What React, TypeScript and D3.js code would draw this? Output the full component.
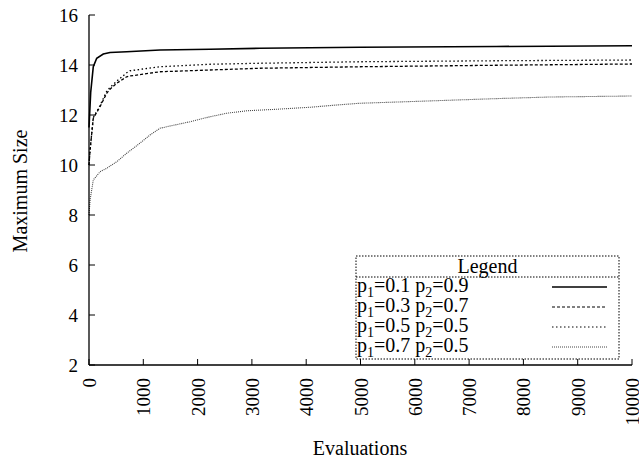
import React from "react";
import * as d3 from "d3";

// evaluations vs maximum size
const series1: [number, number][] = [
  [0, 11.5], [31, 12.9], [79, 13.93], [142, 14.27], [263, 14.44], [387, 14.5],
  [694, 14.53], [1308, 14.6], [2228, 14.63], [3149, 14.67], [4991, 14.71],
  [7500, 14.74], [10000, 14.77],
];
const series2: [number, number][] = [
  [0, 10.0], [20, 10.6], [79, 11.87], [203, 12.33], [326, 12.87], [387, 13.03],
  [510, 13.27], [694, 13.53], [755, 13.56], [1308, 13.73], [2228, 13.8],
  [3149, 13.87], [4991, 13.93], [7500, 13.99], [10000, 14.04],
];
const series3: [number, number][] = [
  [0, 10.0], [20, 10.6], [79, 11.9], [203, 12.38], [326, 12.95], [387, 13.1],
  [510, 13.35], [694, 13.69], [755, 13.77], [1308, 13.93], [2228, 14.03],
  [3149, 14.07], [4991, 14.13], [7500, 14.17], [10000, 14.2],
];
const series4: [number, number][] = [
  [0, 8.0], [20, 8.6], [79, 9.4], [203, 9.73], [326, 9.87], [510, 10.13],
  [694, 10.47], [937, 10.87], [1123, 11.2], [1308, 11.47], [1492, 11.56],
  [1860, 11.73], [2228, 11.93], [2536, 12.07], [2904, 12.17], [3457, 12.23],
  [4070, 12.31], [4562, 12.4], [4991, 12.47], [6096, 12.55], [7569, 12.66],
  [8490, 12.72], [10000, 12.76],
];

const legendP1 = ["0.1", "0.3", "0.5", "0.7"];
const legendP2 = ["0.9", "0.7", "0.5", "0.5"];
const xTicks = [0, 1000, 2000, 3000, 4000, 5000, 6000, 7000, 8000, 9000, 10000];
const yTicks = [2, 4, 6, 8, 10, 12, 14, 16];

const allSeries = [series1, series2, series3, series4];
const dashes = ["none", "3,2", "1.5,2.5", "1,1"];
const strokes = ["#000", "#000", "#000", "#444"];
const widths = [1.6, 1.3, 1.3, 1.1];

const FONT = "Liberation Serif, Times, DejaVu Serif, serif";

export default function App() {
  const width = 639;
  const height = 460;

  const x = d3.scaleLinear().domain([0, 10000]).range([89, 632]);
  const y = d3.scaleLinear().domain([2, 16]).range([365, 15]);

  const line = d3
    .line<[number, number]>()
    .x((d) => x(d[0]))
    .y((d) => y(d[1]));

  // legend box
  const lx0 = 356, lx1 = 619, ly0 = 256, lySep = 277, ly1 = 359;

  return (
    <svg
      width={width}
      height={height}
      style={{ position: "absolute", left: 0, top: 0, background: "#fff", fontFamily: FONT }}
    >
      {/* curves */}
      {allSeries.map((s, i) => (
        <path
          key={i}
          d={line(s) || ""}
          fill="none"
          stroke={strokes[i]}
          strokeWidth={widths[i]}
          strokeDasharray={dashes[i]}
        />
      ))}

      {/* axes */}
      <line x1={x(0)} x2={x(0)} y1={y(16)} y2={y(2)} stroke="#000" strokeWidth={1.3} />
      <line x1={x(0)} x2={x(10000)} y1={y(2)} y2={y(2)} stroke="#000" strokeWidth={1.3} />
      {yTicks.map((t) => (
        <g key={t}>
          <line x1={x(0)} x2={x(0) + 6} y1={y(t)} y2={y(t)} stroke="#000" />
          <text x={78} y={y(t)} dy="0.35em" textAnchor="end" fontSize={19}>
            {t}
          </text>
        </g>
      ))}
      {xTicks.map((t) => (
        <g key={t}>
          <line x1={x(t)} x2={x(t)} y1={y(2)} y2={y(2) - 6} stroke="#000" />
          <text
            transform={`translate(${x(t) + 7},378) rotate(-90)`}
            textAnchor="end"
            fontSize={19}
          >
            {t}
          </text>
        </g>
      ))}

      <text x={360} y={455} textAnchor="middle" fontSize={20}>
        Evaluations
      </text>
      <text transform="translate(27,191) rotate(-90)" textAnchor="middle" fontSize={20}>
        Maximum Size
      </text>

      {/* legend */}
      <rect
        x={lx0}
        y={ly0}
        width={lx1 - lx0}
        height={ly1 - ly0}
        fill="#fff"
        stroke="#000"
        strokeWidth={1}
        strokeDasharray="1.5,1.5"
      />
      <line x1={lx0} x2={lx1} y1={lySep} y2={lySep} stroke="#000" strokeDasharray="1.5,1.5" />
      <text x={(lx0 + lx1) / 2} y={273} textAnchor="middle" fontSize={20}>
        Legend
      </text>
      {legendP1.map((p1, i) => {
        const by = 292 + i * 20;
        return (
          <g key={i}>
            <text x={lx0 + 1} y={by} fontSize={20}>
              p<tspan fontSize={14} dy={5}>1</tspan>
              <tspan dy={-5}>={p1} p</tspan>
              <tspan fontSize={14} dy={5}>2</tspan>
              <tspan dy={-5}>={legendP2[i]}</tspan>
            </text>
            <line
              x1={552}
              x2={607}
              y1={by - 5}
              y2={by - 5}
              stroke={strokes[i]}
              strokeWidth={i === 0 ? 1.3 : 1}
              strokeDasharray={dashes[i]}
            />
          </g>
        );
      })}
    </svg>
  );
}
